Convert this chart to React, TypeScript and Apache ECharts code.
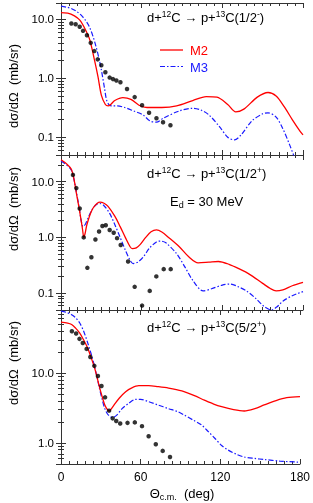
import React, { useEffect, useRef } from 'react';
import * as echarts from 'echarts';

// ---- Panel 1: 1/2- ----
const P1_EXP: number[][] = [
  [7.7, 8.55], [10.9, 8.3], [13.9, 7.5], [16.4, 6.4], [19.3, 5.4], [22.1, 4.0], [24.8, 2.9],
  [27.3, 2.1], [30, 1.67], [33, 1.27], [36.2, 1.03], [38.7, 0.97], [41.2, 0.92], [44.2, 0.86],
  [49.1, 0.66], [54.8, 0.48], [60.3, 0.35], [65.5, 0.26], [71, 0.21], [75.9, 0.18], [81.4, 0.16],
];
const P1_M2: number[][] = [
  [0, 13], [5, 12.8], [10, 11.5], [14, 9.7], [18, 6.8], [21.4, 4.5], [25, 2.0], [27.5, 1.07],
  [30, 0.52], [33, 0.36], [35, 0.34], [37, 0.36], [40, 0.42], [46, 0.47], [52, 0.44], [58, 0.35],
  [64, 0.32], [75, 0.32], [86, 0.34], [98, 0.42], [108, 0.49], [116, 0.48], [124, 0.36],
  [130, 0.27], [136, 0.3], [146, 0.48], [154, 0.575], [160, 0.5], [166, 0.33], [172, 0.2],
  [178, 0.125], [180, 0.11],
];
const P1_M3: number[][] = [
  [0, 16.8], [5, 16], [8, 15.2], [12, 13.5], [15, 11.8], [18, 9.8], [21, 7.6], [24, 5.0],
  [26, 3.5], [28, 2.3], [30, 1.4], [32.5, 0.65], [34, 0.42], [36, 0.35], [38, 0.34], [42, 0.34],
  [47.4, 0.32], [54, 0.28], [61, 0.24], [66, 0.19], [71, 0.18], [76, 0.21], [88, 0.28],
  [98, 0.31], [104, 0.29], [110, 0.24], [118, 0.15], [124, 0.1], [129, 0.09], [134, 0.11],
  [142, 0.19], [150, 0.25], [154, 0.26], [160, 0.22], [165, 0.14], [170, 0.075], [173, 0.05],
  [176, 0.035],
];

// ---- Panel 2: 1/2+ ----
const P2_EXP: number[][] = [
  [8.9, 13.2], [11.4, 7.65], [13.9, 3.3], [16.9, 1.0], [19.6, 0.285], [22.6, 0.44], [25.6, 0.92],
  [28.3, 1.28], [30.8, 1.6], [33.3, 1.65], [36.2, 1.36], [39.2, 1.21], [41.7, 0.97], [44.4, 0.73],
  [49.9, 0.37], [54.8, 0.13], [60.3, 0.06], [66, 0.11], [70.9, 0.2], [76.4, 0.27], [81.6, 0.27],
];
const P2_M2: number[][] = [
  [0, 24.7], [4, 21], [7.7, 16.7], [10, 10], [11.4, 6.3], [13.5, 3.3], [15, 2.0], [16, 1.4],
  [17, 1.0], [18, 1.2], [19, 1.6], [20, 1.95], [22, 2.7], [24, 3.4], [27, 4.1], [29, 4.3],
  [32, 4.1], [35, 3.6], [40, 2.4], [44, 1.56], [48, 0.98], [51.4, 0.68], [53, 0.63], [56, 0.65],
  [59, 0.75], [63, 1.0], [67, 1.26], [71, 1.36], [75, 1.25], [80, 1.0], [88, 0.68], [95, 0.45],
  [102, 0.35], [110, 0.36], [117, 0.37], [125, 0.33], [133, 0.27], [140, 0.22], [150, 0.15],
  [156, 0.12], [160, 0.11], [165, 0.115], [172, 0.136], [180, 0.157],
];
const P2_M3: number[][] = [
  [0, 23.5], [4, 20], [7.7, 16], [10, 10], [11.4, 6.5], [13.5, 3.5], [15, 2.0], [16.4, 1.56],
  [18, 1.7], [20, 2.2], [23, 3.1], [26.3, 3.9], [29, 4.05], [32, 3.7], [36.2, 2.7], [40, 1.7],
  [44, 1.0], [48, 0.58], [51.4, 0.39], [53.6, 0.34], [57, 0.36], [61, 0.44], [66, 0.65],
  [71, 0.83], [74, 0.86], [78, 0.8], [86, 0.51], [92, 0.3], [98, 0.17], [105.7, 0.11],
  [112, 0.12], [120, 0.14], [126, 0.146], [132, 0.13], [138, 0.11], [145, 0.08], [151, 0.058],
  [156.5, 0.05], [161, 0.058], [165, 0.072], [172, 0.09], [180, 0.107],
];

// ---- Panel 3: 5/2+ ----
const P3_EXP: number[][] = [
  [8.2, 39.8], [11.4, 36.8], [13.9, 30.9], [16.4, 27], [19.3, 22.2], [22.1, 17], [25.1, 12.7],
  [27.8, 9.1], [30.5, 6.55], [33.2, 4.5], [36.2, 2.9], [38.9, 2.25], [41.6, 2.06], [44.6, 1.9],
  [50.1, 1.94], [55.6, 1.97], [61, 1.74], [66, 1.25], [71.4, 0.96], [76.6, 0.77], [82.1, 0.63],
];
const P3_M2: number[][] = [
  [0, 53.6], [5, 52], [8, 49.6], [11, 44], [14, 37.7], [17, 30], [20, 23], [23, 16], [25, 12.4],
  [27, 9], [29, 6.3], [31, 4.6], [33, 3.5], [35, 3.0], [36.5, 2.87], [38, 3.1], [40, 3.5],
  [44, 4.4], [48.7, 5.4], [53, 6.1], [58.6, 6.6], [66, 6.6], [73, 6.4], [81, 6.1], [91, 5.55],
  [100, 4.8], [108, 4.1], [115, 3.6], [121, 3.3], [130, 3.0], [138, 2.87], [146, 3.1],
  [153, 3.5], [162, 4.05], [170, 4.45], [180, 4.6],
];
const P3_M3: number[][] = [
  [0, 77], [4, 74], [7.7, 69], [11, 62], [14, 52.5], [17, 40], [20, 27.5], [23, 18], [25, 13],
  [27, 9], [29, 6], [31, 4.2], [33, 3.1], [35, 2.6], [37, 2.4], [39, 2.32], [42, 2.5], [46, 3.1],
  [51, 3.7], [56, 4.2], [60, 4.2], [66, 3.9], [73, 3.5], [81, 3.1], [88, 2.8], [93, 2.5],
  [100, 2.1], [106, 1.8], [111, 1.45], [116, 1.16], [121, 0.92], [126, 0.79], [132, 0.69],
  [138, 0.63], [146, 0.6], [153, 0.58], [165, 0.55], [180, 0.53],
];

const Y_RANGES: number[][] = [[0.05, 19], [0.05, 30], [0.5, 80]];
const X_TICK_INTERVAL = 60;
const PANELS = [
  { exp: P1_EXP, m2: P1_M2, m3: P1_M3 },
  { exp: P2_EXP, m2: P2_M2, m3: P2_M3 },
  { exp: P3_EXP, m2: P3_M2, m3: P3_M3 },
];

const FONT = 'Liberation Sans, Arial, Helvetica, sans-serif';
const AX = '#333';
const RED = '#ff0000';
const BLUE = '#1a1aff';

export default function App() {
  const ref = useRef<HTMLDivElement>(null);
  useEffect(() => {
    const chart = echarts.init(ref.current!, null, { renderer: 'svg' });
    const grids = [
      { left: 61, top: 3, width: 242, height: 152 },
      { left: 61, top: 155, width: 242, height: 155 },
      { left: 61, top: 310, width: 242, height: 154 },
    ];
    const xAxis: any[] = [];
    const yAxis: any[] = [];
    const series: any[] = [];
    grids.forEach((_, i) => {
      ['bottom', 'top'].forEach((pos) => {
        xAxis.push({
          gridIndex: i, type: 'value', min: 0, max: 180, interval: X_TICK_INTERVAL, position: pos,
          axisLine: { show: true, lineStyle: { color: AX, width: 1 } },
          axisTick: { show: true, inside: true, length: 5, lineStyle: { color: AX } },
          minorTick: { show: true, splitNumber: 10, length: 3, lineStyle: { color: AX } },
          splitLine: { show: false },
          axisLabel: { show: i === 2 && pos === 'bottom', color: '#000', fontSize: 12, fontFamily: FONT, margin: 7 },
        });
      });
      ['left', 'right'].forEach((pos) => {
        yAxis.push({
          gridIndex: i, type: 'log', logBase: 10, min: Y_RANGES[i][0], max: Y_RANGES[i][1], position: pos,
          axisLine: { show: true, lineStyle: { color: AX, width: 1 } },
          axisTick: { show: true, inside: true, length: 5, lineStyle: { color: AX } },
          minorTick: { show: true, splitNumber: 9, length: 3, lineStyle: { color: AX } },
          splitLine: { show: false },
          axisLabel: {
            show: pos === 'left', color: '#000', fontSize: 11.5, fontFamily: FONT, margin: 7,
            formatter: (v: number) => {
              const l = Math.log10(v);
              return Math.abs(l - Math.round(l)) < 1e-6 ? v.toFixed(1) : '';
            },
          },
        });
      });
      const p = PANELS[i];
      series.push({
        type: 'line', xAxisIndex: i * 2, yAxisIndex: i * 2, data: p.m2, smooth: 0.3, showSymbol: false,
        lineStyle: { color: RED, width: 1.3 }, z: 3,
      });
      series.push({
        type: 'line', xAxisIndex: i * 2, yAxisIndex: i * 2, data: p.m3, smooth: 0.3, showSymbol: false,
        lineStyle: { color: BLUE, width: 1.2, type: [5, 2, 1.5, 2] }, z: 2,
      });
      series.push({
        type: 'scatter', xAxisIndex: i * 2, yAxisIndex: i * 2, data: p.exp, symbolSize: 4.5,
        itemStyle: { color: '#000' }, z: 4,
      });
    });

    const main = { fontSize: 13, fontFamily: FONT, color: '#000', lineHeight: 16, verticalAlign: 'middle' };
    const sup = { fontSize: 8.5, fontFamily: FONT, color: '#000', lineHeight: 9, verticalAlign: 'top' };
    const sub = { fontSize: 9, fontFamily: FONT, color: '#000', lineHeight: 9, verticalAlign: 'bottom' };
    const rich = { a: main, s: sup, b: sub };
    const reaction = (j: string, sign: string) =>
      `{a|d+}{s|12}{a|C → p+}{s|13}{a|C(${j}}{s|${sign}}{a|)}`;
    const ylab = (cy: number) => ({
      type: 'text', x: 13, y: cy, rotation: Math.PI / 2,
      style: { text: 'dσ/dΩ  (mb/sr)', fontSize: 13, fontFamily: FONT, fill: '#000', align: 'center', verticalAlign: 'middle' },
    });

    const graphic: any[] = [
      { type: 'text', x: 147, y: 17, style: { text: reaction('1/2', '-'), rich, verticalAlign: 'middle' } },
      { type: 'text', x: 147, y: 173, style: { text: reaction('1/2', '+'), rich, verticalAlign: 'middle' } },
      { type: 'text', x: 147, y: 327, style: { text: reaction('5/2', '+'), rich, verticalAlign: 'middle' } },
      { type: 'text', x: 170, y: 201, style: { text: '{a|E}{b|d}{a| = 30 MeV}', rich, verticalAlign: 'middle' } },
      { type: 'line', shape: { x1: 160, y1: 50, x2: 183, y2: 50 }, style: { stroke: RED, lineWidth: 1.3 } },
      { type: 'text', x: 190, y: 50, style: { text: 'M2', fontSize: 13, fontFamily: FONT, fill: RED, verticalAlign: 'middle' } },
      { type: 'line', shape: { x1: 160, y1: 66.5, x2: 183, y2: 66.5 }, style: { stroke: BLUE, lineWidth: 1.2, lineDash: [5, 2, 1.5, 2] } },
      { type: 'text', x: 190, y: 67, style: { text: 'M3', fontSize: 13, fontFamily: FONT, fill: BLUE, verticalAlign: 'middle' } },
      ylab(86), ylab(209), ylab(363),
      { type: 'text', x: 182, y: 493, style: { text: '{a|Θ}{b|c.m.}{a|  (deg)}', rich, align: 'center', verticalAlign: 'middle' } },
    ];

    chart.setOption({
      animation: false,
      grid: grids.map((g) => ({ ...g, show: false })),
      xAxis, yAxis, series, graphic,
    });
    return () => chart.dispose();
  }, []);
  return <div ref={ref} style={{ position: 'fixed', left: 0, top: 0, width: 313, height: 503 }} />;
}
